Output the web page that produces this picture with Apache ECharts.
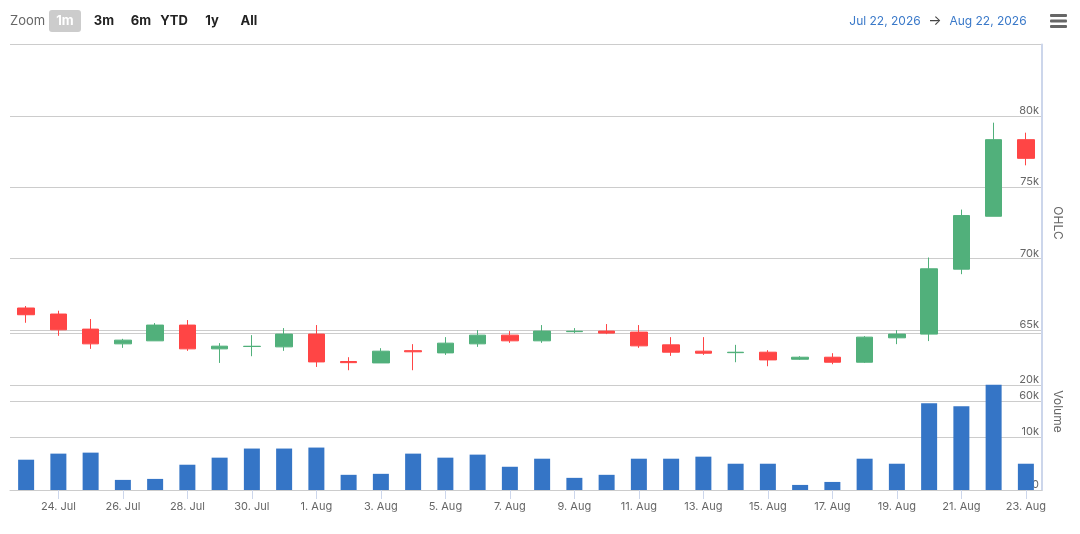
<!DOCTYPE html>
<html>
<head>
<meta charset="utf-8">
<script src="https://cdn.jsdelivr.net/npm/echarts@6/dist/echarts.min.js"></script>
<style>
html,body{margin:0;padding:0;background:#fff;}
#chart{width:1080px;height:534px;}
</style>
</head>
<body>
<div id="chart"></div>
<script>
const categories = ["23. Jul","24. Jul","25. Jul","26. Jul","27. Jul","28. Jul","29. Jul","30. Jul","31. Jul","1. Aug","2. Aug","3. Aug","4. Aug","5. Aug","6. Aug","7. Aug","8. Aug","9. Aug","10. Aug","11. Aug","12. Aug","13. Aug","14. Aug","15. Aug","16. Aug","17. Aug","18. Aug","19. Aug","20. Aug","21. Aug","22. Aug","23. Aug"];
const opens  = [66547,66125,65070,64037,64248,65352,63686,63850,63826,64719,62800,62701,63560,63404,64037,64648,64248,64890,64930,64859,63967,63524,63420,63453,62959,63102,62750,64459,64720,69266,72972,78336];
const closes = [66076,65021,64037,64297,65352,63686,63875,63870,64719,62771,62720,63524,63480,64086,64648,64248,64930,64920,64789,63896,63453,63383,63450,62912,63102,62750,64508,64719,69294,73021,78336,77028];
const lows   = [65513,64600,63686,63756,64248,63546,62701,63172,63546,62420,62190,62701,62190,63264,63826,64107,64107,64789,64719,63756,63194,63264,62750,62469,62910,62610,62700,64016,64231,68916,72972,76539];
const highs  = [66687,66357,65773,64388,65492,65703,64086,64648,65141,65352,63102,63735,64016,64508,65000,64930,65352,65141,65422,65352,64508,64508,63967,63594,63172,63383,64578,65000,70084,73440,79525,78825];
const volumes = [5790,6950,7140,1930,2120,4830,6180,7920,7920,8110,2900,3090,6950,6180,6760,4440,5980,2320,2900,5980,5980,6370,5020,5020,970,1540,5980,5020,16600,16020,20100,5020];
const rangeButtons = ["1m","3m","6m","YTD","1y","All"];
const rangeFrom = "Jul 22, 2026";
const rangeTo = "Aug 22, 2026";

const ohlc = categories.map((c, i) => [opens[i], closes[i], lows[i], highs[i]]);
const FONT = 'Inter, "Noto Sans", sans-serif';
const UP = '#51b07b', DOWN = '#ff4545', VOL = '#3575c6';
const labelEvery2 = (idx) => idx % 2 === 1;

const btnX = [65, 104, 141, 174, 212, 249];
const graphics = [
  {type:'text', x:10, y:21, style:{text:'Zoom', font:'13px ' + FONT, fill:'#666', verticalAlign:'middle'}},
  {type:'rect', shape:{x:49, y:10, width:32, height:22, r:3}, style:{fill:'#cccccc'}},
];
rangeButtons.forEach((b, i) => {
  graphics.push({type:'text', x:btnX[i], y:21, style:{text:b, font:'bold 13px ' + FONT, fill: i === 0 ? '#ffffff' : '#222', align:'center', verticalAlign:'middle'}});
});
graphics.push(
  {type:'text', x:885, y:21, style:{text:rangeFrom, font:'12px ' + FONT, fill:'#3a79c9', align:'center', verticalAlign:'middle'}},
  {type:'text', x:935, y:21, style:{text:'→', font:'14px ' + FONT, fill:'#444', align:'center', verticalAlign:'middle'}},
  {type:'text', x:988, y:21, style:{text:rangeTo, font:'12px ' + FONT, fill:'#3a79c9', align:'center', verticalAlign:'middle'}},
  {type:'rect', shape:{x:1050, y:14, width:17, height:3, r:1}, style:{fill:'#666'}},
  {type:'rect', shape:{x:1050, y:19.5, width:17, height:3, r:1}, style:{fill:'#666'}},
  {type:'rect', shape:{x:1050, y:25, width:17, height:3, r:1}, style:{fill:'#666'}}
);

const chart = echarts.init(document.getElementById('chart'), null, {renderer:'canvas'});
chart.setOption({
  animation: false,
  textStyle: {fontFamily: FONT},
  graphic: graphics,
  grid: [
    {left:10, right:38, top:44.5, height:357},
    {left:10, right:38, top:333, height:157}
  ],
  xAxis: [
    {type:'category', gridIndex:0, data:categories, boundaryGap:true, show:false},
    {type:'category', gridIndex:1, data:categories, boundaryGap:true,
     axisLine:{show:true, lineStyle:{color:'#cccccc'}},
     axisTick:{show:true, alignWithLabel:true, interval:labelEvery2, length:9, lineStyle:{color:'#ccd6eb'}},
     axisLabel:{interval:labelEvery2, color:'#666', fontSize:11, margin:11, fontFamily:FONT},
     splitLine:{show:false}}
  ],
  yAxis: [
    {type:'value', gridIndex:0, position:'right', min:60000, max:85000, interval:5000,
     name:'OHLC', nameLocation:'middle', nameRotate:-90, nameGap:10,
     nameTextStyle:{color:'#666', fontSize:12, fontFamily:FONT},
     axisLine:{show:true, lineStyle:{color:'#ccd6eb', width:2}},
     axisTick:{show:false},
     axisLabel:{inside:true, showMaxLabel:false, color:'#666', fontSize:11, margin:3, verticalAlign:'bottom', padding:[0,0,0,0], fontFamily:FONT,
       formatter:(v)=> (v/1000) + 'k'},
     splitLine:{show:true, lineStyle:{color:'#cccccc'}}},
    {type:'value', gridIndex:1, position:'right', min:0, max:30000, interval:10000,
     name:'Volume', nameLocation:'middle', nameRotate:-90, nameGap:10,
     nameTextStyle:{color:'#666', fontSize:12, fontFamily:FONT},
     axisLine:{show:true, lineStyle:{color:'#ccd6eb', width:2}},
     axisTick:{show:false},
     axisLabel:{inside:true, showMaxLabel:false, color:'#666', fontSize:11, margin:3, verticalAlign:'bottom', padding:[0,0,0,0], fontFamily:FONT,
       formatter:(v)=> v === 0 ? '0' : (v/1000) + 'k'},
     splitLine:{show:true, lineStyle:{color:'#cccccc'}}}
  ],
  series: [
    {type:'candlestick', name:'OHLC', xAxisIndex:0, yAxisIndex:0, data:ohlc, barWidth:17,
     itemStyle:{color:UP, color0:DOWN, borderColor:UP, borderColor0:DOWN, borderWidth:1}},
    {type:'bar', name:'Volume', xAxisIndex:1, yAxisIndex:1, data:volumes, barWidth:16,
     itemStyle:{color:VOL}}
  ]
});
</script>
</body>
</html>
